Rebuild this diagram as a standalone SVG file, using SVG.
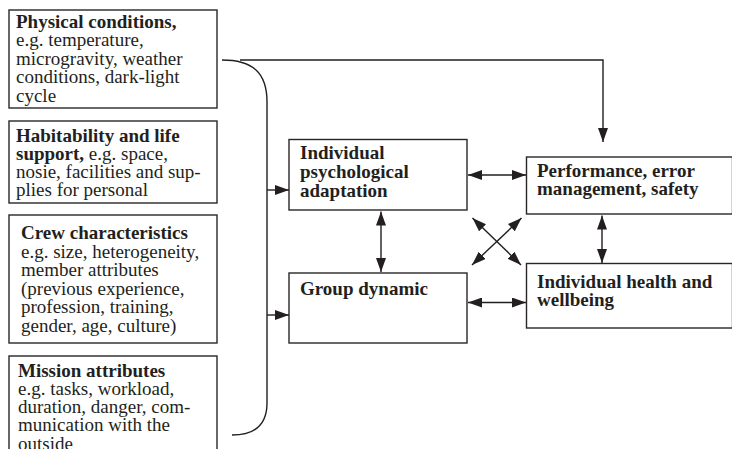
<svg xmlns="http://www.w3.org/2000/svg" width="732" height="449" viewBox="0 0 732 449">
<style>
.box{fill:#fff;stroke:#2a2627;stroke-width:1.4}
.ln{fill:none;stroke:#231f20;stroke-width:1.4}
text{font-family:"Liberation Serif","Times New Roman",serif;font-size:19px;fill:#231f20}
.b{font-weight:bold}
</style>
<defs>
<marker id="ah" viewBox="0 0 14 10" refX="14" refY="5" markerWidth="14" markerHeight="10" markerUnits="userSpaceOnUse" orient="auto-start-reverse">
<path d="M0,0 L14,5 L0,10 z" fill="#231f20"/>
</marker>
</defs>
<rect width="732" height="449" fill="#fff"/>
<g id="physical">
<rect class="box" x="9" y="10" width="208" height="98"/>
<text x="16" y="28"><tspan class="b">Physical conditions,</tspan><tspan x="16" y="46">e.g. temperature,</tspan><tspan x="16" y="64.5">microgravity, weather</tspan><tspan x="16" y="83">conditions, dark-light</tspan><tspan x="16" y="101.5">cycle</tspan></text>
</g>
<g id="habitability">
<rect class="box" x="9" y="121" width="208" height="82"/>
<text x="16" y="142"><tspan class="b">Habitability and life</tspan><tspan x="16" y="160"><tspan class="b">support,</tspan> e.g. space,</tspan><tspan x="16" y="178">nosie, facilities and sup-</tspan><tspan x="16" y="196">plies for personal</tspan></text>
</g>
<g id="crew">
<rect class="box" x="9" y="215" width="208" height="128"/>
<text x="21" y="239"><tspan class="b">Crew characteristics</tspan><tspan x="21" y="257.5">e.g. size, heterogeneity,</tspan><tspan x="21" y="276">member attributes</tspan><tspan x="21" y="294.5">(previous experience,</tspan><tspan x="21" y="313">profession, training,</tspan><tspan x="21" y="331.5">gender, age, culture)</tspan></text>
</g>
<g id="mission">
<rect class="box" x="9" y="356" width="208" height="110"/>
<text x="18" y="377"><tspan class="b">Mission attributes</tspan><tspan x="18" y="395">e.g. tasks, workload,</tspan><tspan x="18" y="413">duration, danger, com-</tspan><tspan x="18" y="431">munication with the</tspan><tspan x="18" y="449.5">outside</tspan></text>
</g>
<g id="ipa">
<rect class="box" x="289" y="139.5" width="178" height="70.5"/>
<text class="b" x="300" y="159"><tspan>Individual</tspan><tspan x="300" y="178">psychological</tspan><tspan x="300" y="197">adaptation</tspan></text>
</g>
<g id="group">
<rect class="box" x="289" y="273" width="178" height="70"/>
<text class="b" x="300" y="295">Group dynamic</text>
</g>
<g id="performance">
<rect class="box" x="526.5" y="157" width="206" height="57"/>
<text class="b" x="537" y="177"><tspan>Performance, error</tspan><tspan x="537" y="195">management, safety</tspan></text>
</g>
<g id="health">
<rect class="box" x="526.5" y="263.5" width="206" height="64.5"/>
<text class="b" x="537" y="288"><tspan>Individual health and</tspan><tspan x="537" y="306">wellbeing</tspan></text>
</g>
<g id="connectors">
<path class="ln" d="M222,60 C252,60 267,72 267,102 L267,403 C267,425 255,435 232,435"/>
<path class="ln" d="M240,60 L603,60 L603,142" marker-end="url(#ah)"/>
<path class="ln" d="M267,190 L289,190" marker-end="url(#ah)"/>
<path class="ln" d="M267,315 L289,315" marker-end="url(#ah)"/>
<path class="ln" d="M468,175 L526,175" marker-start="url(#ah)" marker-end="url(#ah)"/>
<path class="ln" d="M468,302.5 L526,302.5" marker-start="url(#ah)" marker-end="url(#ah)"/>
<path class="ln" d="M381,211.5 L381,272" marker-start="url(#ah)" marker-end="url(#ah)"/>
<path class="ln" d="M602,215.5 L602,263" marker-start="url(#ah)" marker-end="url(#ah)"/>
<path class="ln" d="M472.5,218 L521,265" marker-start="url(#ah)" marker-end="url(#ah)"/>
<path class="ln" d="M521.5,218 L472,265" marker-start="url(#ah)" marker-end="url(#ah)"/>
</g>
</svg>
